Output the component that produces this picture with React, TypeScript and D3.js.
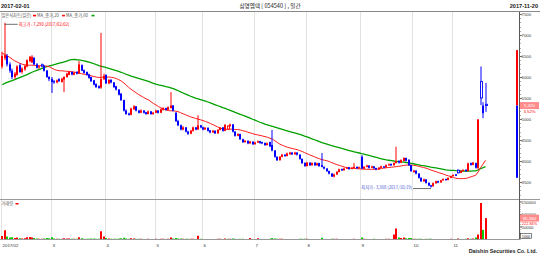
import React from 'react';
import * as d3 from 'd3';

// ---- header / labels ----
const startDate = '2017-02-01';
const endDate = '2017-11-20';
const title = '삼영엠텍 [ 054540 ] , 일간';
const legendItems = ['일본식차트(일간)', 'MA_종가,20', 'MA_종가,60'];
const highLabel = '최고가 : 7,290 (2017/02/02)';
const highIdx = 1;
const lowLabel = '최저가 : 3,368 (2017/10/19)';
const lowIdx = 173;
const changePct = '3.52%';
const footer = 'Daishin Securities Co. Ltd.';
const volUnit = '1000';

// ---- axis ticks ----
const monthStarts = [0, 20, 42, 62, 81, 102, 123, 145, 166, 182];
const monthLabels = ['2017/02', '3', '4', '5', '6', '7', '8', '9', '10', '11'];
const priceTicks = [3500, 4000, 4500, 5000, 5500, 6000, 6500, 7000, 7500];
const volumeTicks = [50000, 100000, 150000];
const rangeTop = 6640;
const rangeBottom = 3600;

// ---- closes before 2017-02-01 (only used for moving averages) ----
const priorCloses = [
  4700, 4750, 4720, 4800, 4780, 4820, 4760, 4800, 4850, 4830, 4790, 4810, 4860, 4900,
  4880, 4850, 4870, 4920, 4900, 4880, 4930, 4950, 4900, 4920, 4960, 4980, 5000, 5050,
  6000, 6500, 6500, 6700, 6900, 7000, 6950, 6900, 7050, 7100, 6950, 7000,
  7000, 6950, 6900, 6850, 6900, 6800, 6700, 6650, 6600, 6550, 6500, 6450, 6400, 6350,
  6300, 6250, 6200, 6150, 6250,
];

// ---- daily data 2017-02-01 .. 2017-11-20 ----
const opens = [
  6250, 6450, 6500, 6300, 6150, 6000, 6050, 6280, 6120, 6180, 6250, 6380, 6350, 6450, 6300, 6230, 6290, 6260, 6150, 6000,
  5950, 5900, 5870, 5950, 5880, 5940, 6000, 6050, 6120, 6060, 6120, 6080, 6280, 6160, 6120, 6060, 6000, 5920, 5830, 5780, 5750, 5950,
  6050, 5850, 5930, 5870, 5780, 5700, 5600, 5450, 5200, 5130, 5100, 5230, 5300, 5200, 5150, 5200, 5160, 5120, 5180, 5120,
  5150, 5200, 5150, 5220, 5260, 5220, 5260, 5320, 5150, 4950, 4850, 4750, 4800, 4700, 4650, 4720, 4800, 4750, 4850,
  4800, 4750, 4790, 4730, 4680, 4720, 4660, 4740, 4800, 4720, 4760, 4830, 4870, 4700, 4600, 4640, 4520, 4450, 4480, 4420, 4460,
  4400, 4440, 4470, 4450, 4430, 4380, 4450, 4380, 4250, 4100, 4020, 4100, 4150, 4120, 4160, 4200, 4160, 4200, 4150, 4050, 3950,
  3880, 3960, 3900, 3960, 3900, 3950, 3900, 3860, 3820, 3760, 3700, 3630, 3680, 3740, 3810, 3780, 3820, 3850, 3810, 3840, 3860, 3830,
  4100, 3820, 3860, 3890, 3840, 3870, 3830, 3800, 3840, 3870, 3850, 3900, 3930, 3900, 3950, 4000, 3960, 4000, 4070, 4030, 3900,
  3740, 3770, 3700, 3600, 3520, 3560, 3480, 3420, 3400, 3470, 3520, 3490, 3540, 3570, 3550, 3600,
  3640, 3680, 3780, 3720, 3760, 3790, 3760, 3950, 3910, 3950, 3840, 5890, 5320, 5350,
];
const highs = [
  6600, 7290, 6550, 6350, 6200, 6120, 6280, 6320, 6230, 6300, 6420, 6500, 6520, 6480, 6330, 6280, 6320, 6280, 6170, 6020,
  6000, 5930, 5940, 5970, 5980, 6020, 6100, 6140, 6130, 6120, 6140, 6380, 6300, 6180, 6130, 6080, 6010, 5930, 5850, 5800, 7050, 6080,
  6060, 5950, 5950, 5880, 5790, 5710, 5620, 5460, 5230, 5150, 5270, 5330, 5310, 5220, 5230, 5210, 5170, 5200, 5190, 5170,
  5220, 5210, 5250, 5280, 5270, 5300, 5640, 5330, 5160, 4980, 4870, 4830, 4810, 4720, 4740, 4820, 4810, 5090, 4860,
  4820, 4810, 4800, 4740, 4740, 4730, 4760, 4810, 4810, 4880, 4850, 4890, 4880, 4710, 4660, 4650, 4530, 4500, 4490, 4480, 4470,
  4460, 4490, 4480, 4460, 4440, 4440, 4460, 4740, 4260, 4110, 4120, 4170, 4160, 4200, 4220, 4210, 4220, 4210, 4160, 4060, 3970,
  3980, 3970, 3970, 3970, 3960, 3960, 4190, 3870, 3830, 3770, 3710, 3700, 3760, 3820, 3820, 3840, 3860, 3860, 3860, 3950, 3870, 3870,
  4140, 3880, 3910, 3900, 3890, 3880, 3840, 3860, 3890, 3880, 3920, 3940, 3940, 3970, 4340, 4020, 4040, 4090, 4080, 4040, 3910,
  3790, 3780, 3710, 3610, 3580, 3570, 3490, 3430, 3490, 3530, 3530, 3550, 3590, 3580, 3610, 3650,
  3680, 3690, 3800, 3780, 3800, 3800, 3960, 3960, 3980, 3960, 4990, 6250, 5400, 5860,
];
const lows = [
  6200, 6400, 6250, 6100, 5950, 5950, 6030, 6100, 6080, 6150, 6230, 6350, 6330, 6280, 6200, 6200, 6240, 6130, 5980, 5900,
  5620, 5840, 5850, 5880, 5870, 5640, 5980, 6040, 6040, 6040, 6060, 6070, 6140, 6080, 6030, 5960, 5880, 5800, 5740, 5720, 5720, 5930,
  5830, 5830, 5850, 5740, 5680, 5560, 5430, 5180, 5100, 5080, 5090, 5220, 5180, 5130, 5140, 5130, 5100, 5110, 5100, 5100,
  5140, 5130, 5140, 5200, 5200, 5210, 5250, 5180, 4930, 4830, 4730, 4730, 4680, 4620, 4640, 4700, 4730, 4740, 4780,
  4730, 4740, 4700, 4660, 4670, 4640, 4650, 4730, 4700, 4710, 4750, 4820, 4680, 4580, 4590, 4500, 4430, 4440, 4400, 4410, 4380,
  4390, 4430, 4410, 4400, 4360, 4370, 4330, 4230, 4080, 4000, 4010, 4090, 4100, 4110, 4150, 4140, 4150, 4130, 4030, 3930, 3860,
  3870, 3880, 3890, 3880, 3890, 3860, 3850, 3800, 3740, 3680, 3620, 3610, 3670, 3730, 3760, 3770, 3810, 3790, 3800, 3830, 3810, 3820,
  3810, 3810, 3850, 3820, 3830, 3810, 3780, 3790, 3830, 3830, 3840, 3890, 3880, 3890, 3940, 3940, 3950, 3990, 3990, 3880, 3740,
  3720, 3680, 3580, 3500, 3500, 3460, 3400, 3368, 3390, 3460, 3470, 3480, 3530, 3530, 3540, 3590,
  3630, 3640, 3700, 3710, 3750, 3740, 3750, 3890, 3900, 3820, 3800, 5330, 5020, 5170,
];
const closes = [
  6500, 6520, 6300, 6150, 6000, 6080, 6250, 6120, 6200, 6260, 6400, 6480, 6480, 6300, 6220, 6250, 6260, 6150, 6000, 5950,
  5880, 5870, 5920, 5900, 5960, 6000, 6080, 6120, 6060, 6100, 6080, 6300, 6150, 6100, 6050, 5980, 5900, 5820, 5760, 5740, 5950, 6030,
  5850, 5930, 5870, 5760, 5700, 5580, 5450, 5200, 5120, 5100, 5250, 5300, 5200, 5150, 5200, 5150, 5120, 5180, 5120, 5150,
  5200, 5150, 5230, 5260, 5220, 5280, 5320, 5200, 4950, 4850, 4750, 4800, 4700, 4650, 4720, 4800, 4750, 4850, 4800,
  4750, 4790, 4720, 4680, 4720, 4660, 4740, 4790, 4720, 4860, 4830, 4870, 4700, 4600, 4640, 4520, 4450, 4480, 4420, 4460, 4400,
  4440, 4470, 4430, 4420, 4380, 4420, 4350, 4250, 4100, 4020, 4100, 4150, 4120, 4180, 4200, 4160, 4200, 4150, 4050, 3950, 3880,
  3960, 3900, 3950, 3900, 3940, 3880, 3860, 3820, 3760, 3700, 3630, 3680, 3740, 3800, 3780, 3820, 3840, 3810, 3840, 3860, 3830, 3850,
  3820, 3860, 3890, 3840, 3870, 3830, 3800, 3840, 3870, 3850, 3900, 3920, 3900, 3950, 4000, 3960, 4020, 4070, 4010, 3900, 3760,
  3770, 3700, 3600, 3520, 3560, 3480, 3420, 3390, 3470, 3520, 3490, 3540, 3570, 3550, 3600, 3640,
  3670, 3650, 3720, 3760, 3790, 3760, 3940, 3910, 3960, 3840, 4990, 5500, 5140, 5320,
];
const volumes = [
  14000, 37000, 12000, 8000, 9000, 6000, 8000, 5000, 4000, 5000, 9000, 10000, 8000, 6000, 4000, 3000, 3000, 4000, 6000, 5000,
  9000, 4000, 3000, 3000, 3000, 5000, 4000, 4000, 3000, 3000, 3000, 9000, 5000, 3000, 3000, 3000, 4000, 4000, 3000, 3000, 33000, 12000,
  6000, 4000, 3000, 3000, 3000, 4000, 5000, 7000, 4000, 3000, 5000, 4000, 3000, 3000, 3000, 2000, 2000, 3000, 2000, 2000,
  3000, 2000, 3000, 3000, 2000, 3000, 8000, 4000, 6000, 4000, 4000, 3000, 3000, 3000, 3000, 3000, 2000, 15000, 3000,
  2000, 2000, 2000, 2000, 2000, 2000, 3000, 3000, 2000, 4000, 3000, 3000, 4000, 3000, 2000, 3000, 3000, 2000, 2000, 6000, 2000,
  2000, 5000, 2000, 2000, 2000, 2000, 3000, 6000, 4000, 3000, 3000, 3000, 2000, 2000, 2000, 2000, 2000, 2000, 3000, 3000, 3000,
  3000, 2000, 2000, 2000, 2000, 2000, 7000, 2000, 2000, 2000, 3000, 3000, 3000, 2000, 2000, 2000, 2000, 2000, 2000, 3000, 2000, 2000,
  8000, 3000, 2000, 2000, 2000, 3000, 2000, 2000, 2000, 2000, 3000, 3000, 2000, 20000, 44000, 8000, 6000, 8000, 5000, 6000, 6000,
  3000, 3000, 3000, 3000, 2000, 3000, 3000, 3000, 2000, 2000, 2000, 2000, 2000, 2000, 2000, 3000,
  2000, 2000, 4000, 2000, 2000, 3000, 5000, 3000, 4000, 8000, 20000, 146000, 38395, 85560,
];

const RED = '#ff0000';
const BLUE = '#0000ff';
const MA_RED = '#ff1a1a';
const MA_GREEN = '#00a000';
const VOL_GREEN = '#00cc00';
const FONT = "'Liberation Sans', 'Noto Sans CJK KR', sans-serif";
const KFONT = "'Noto Sans CJK KR', 'Liberation Sans', sans-serif";

export default function App() {
  const W = 540;
  const H = 257;
  const N = closes.length;
  const plotL = 1;
  const plotR = 519;
  const priceBottom = 199.5;
  const volBase = 239.5;

  const x = d3.scaleLinear().domain([-0.5, 208.5]).range([plotL, plotR]);
  const yP = d3.scaleLinear().domain([3500, 7000]).range([182, 35]);
  const yV = d3.scaleLinear().domain([0, 150000]).range([volBase, 202]);

  const all = priorCloses.concat(closes);
  const P = priorCloses.length;
  const ma = (n: number) =>
    closes.map((_, i) => d3.mean(all.slice(P + i - n + 1, P + i + 1)) as number);
  const ma20 = ma(20);
  const ma60 = ma(60);
  const idx = d3.range(N);
  const line = (arr: number[]) =>
    d3.line<number>().x((i) => x(i)).y((i) => yP(arr[i]))(idx) || '';

  const prevClose = (i: number) => (i > 0 ? closes[i - 1] : priorCloses[P - 1]);
  const left = (i: number) => Math.round(x(i) - 1);

  const last = closes[N - 1];
  const lastVol = volumes[N - 1];
  const volPct = d3.format('.2f')((lastVol / volumes[N - 2]) * 100) + '%';
  const fmt = d3.format(',');

  const minorPrice = d3.range(3200, 7600, 100);
  const minorVol = d3.range(0, 160000, 10000);

  const hx = x(highIdx);
  const hy = yP(highs[highIdx]);
  const lx = x(lowIdx);
  const ly = yP(lows[lowIdx]);

  return (
    <svg
      width={W}
      height={H}
      style={{ position: 'absolute', left: 0, top: 0, background: '#fff' }}
    >
      <rect x={0} y={0} width={W} height={H} fill="#fff" />
      {/* header */}
      <text x={1} y={8} fontSize={5.6} fontWeight="bold" fontFamily={FONT} fill="#222">
        {startDate}
      </text>
      <text x={270} y={8} fontSize={5.6} textAnchor="middle" fontFamily={KFONT} fill="#222">
        {title}
      </text>
      <text x={538} y={8} fontSize={5.6} fontWeight="bold" textAnchor="end" fontFamily={FONT} fill="#222">
        {endDate}
      </text>
      <line x1={0} x2={W} y1={11.5} y2={11.5} stroke="#888" strokeWidth={1} />

      {/* month grid */}
      {monthStarts.map((m, k) => {
        const gx = Math.round(x(m - 0.5)) + 0.5;
        return (
          <g key={'g' + k}>
            <line x1={gx} x2={gx} y1={12} y2={volBase} stroke="#e2e2e2" strokeWidth={1} />
            <text x={gx + 1} y={247} fontSize={4.4} fontFamily={FONT} fill="#333">
              {monthLabels[k]}
            </text>
          </g>
        );
      })}

      {/* pane separators and axis */}
      <line x1={0} x2={W} y1={priceBottom} y2={priceBottom} stroke="#999" strokeWidth={1} />
      <line x1={0} x2={plotR} y1={volBase} y2={volBase} stroke="#999" strokeWidth={1} />
      <line x1={plotR + 0.5} x2={plotR + 0.5} y1={12} y2={volBase} stroke="#555" strokeWidth={1} />

      {/* price axis */}
      {minorPrice.map((p) => (
        <line key={'mp' + p} x1={plotR + 0.5} x2={plotR + 2} y1={Math.round(yP(p)) + 0.5} y2={Math.round(yP(p)) + 0.5} stroke="#777" strokeWidth={0.6} />
      ))}
      {priceTicks.map((p) => (
        <g key={'pt' + p}>
          <line x1={plotR + 0.5} x2={plotR + 3} y1={Math.round(yP(p)) + 0.5} y2={Math.round(yP(p)) + 0.5} stroke="#555" strokeWidth={0.8} />
          <text x={plotR + 2.5} y={yP(p) + 1.6} fontSize={4.3} fontFamily={FONT} fill="#333">
            {p}
          </text>
        </g>
      ))}
      {/* range bar */}
      <rect x={plotR - 3} y={yP(rangeTop)} width={2} height={yP(last) - yP(rangeTop)} fill={RED} />
      <rect x={plotR - 3} y={yP(last)} width={2} height={yP(rangeBottom) - yP(last)} fill={BLUE} />

      {/* volume axis */}
      {minorVol.map((v) => (
        <line key={'mv' + v} x1={plotR + 0.5} x2={plotR + 2} y1={yV(v)} y2={yV(v)} stroke="#777" strokeWidth={0.5} />
      ))}
      {volumeTicks.map((v) => (
        <g key={'vt' + v}>
          <line x1={plotR + 0.5} x2={plotR + 3} y1={yV(v)} y2={yV(v)} stroke="#555" strokeWidth={0.8} />
          <text x={plotR + 2.5} y={yV(v) + 1.6} fontSize={4.3} fontFamily={FONT} fill="#333">
            {v}
          </text>
        </g>
      ))}
      <rect x={plotR + 1.5} y={233.5} width={11} height={5} fill="#fff" stroke="#333" strokeWidth={0.6} />
      <text x={plotR + 7} y={237.5} fontSize={3.8} textAnchor="middle" fontFamily={FONT} fill="#222">
        {volUnit}
      </text>

      {/* legend */}
      <text x={1.5} y={17} fontSize={4.2} fontFamily={KFONT} fill="#555">
        {legendItems[0]}
      </text>
      <rect x={33} y={14.8} width={3} height={1.6} fill={RED} />
      <text x={37} y={17} fontSize={4.2} fontFamily={KFONT} fill="#555">
        {legendItems[1]}
      </text>
      <rect x={62} y={14.8} width={3} height={1.6} fill={MA_RED} />
      <text x={66} y={17} fontSize={4.2} fontFamily={KFONT} fill="#555">
        {legendItems[2]}
      </text>
      <rect x={91.5} y={14.8} width={3} height={1.6} fill={MA_GREEN} />

      {/* moving averages */}
      <path d={line(ma60)} fill="none" stroke={MA_GREEN} strokeWidth={1.3} />
      <path d={line(ma20)} fill="none" stroke={MA_RED} strokeWidth={1} />

      {/* candles */}
      {idx.map((i) => {
        const o = opens[i];
        const c = closes[i];
        const up = c >= o;
        const col = up ? RED : BLUE;
        const hollow = up ? c < prevClose(i) : c > prevClose(i);
        const L = left(i);
        const top = yP(Math.max(o, c));
        const bh = Math.max(1, yP(Math.min(o, c)) - top);
        return (
          <g key={'c' + i}>
            <line x1={L + 1} x2={L + 1} y1={yP(highs[i])} y2={yP(lows[i])} stroke={col} strokeWidth={1} />
            {hollow ? (
              <rect x={L + 0.5} y={top} width={2} height={bh} fill="#fff" stroke={col} strokeWidth={0.9} />
            ) : (
              <rect x={L} y={top} width={2} height={bh} fill={col} />
            )}
          </g>
        );
      })}

      {/* volume bars */}
      {idx.map((i) => {
        const v = volumes[i];
        const upDay = closes[i] >= prevClose(i);
        return (
          <rect
            key={'v' + i}
            x={left(i)}
            y={yV(v)}
            width={2}
            height={volBase - 0.5 - yV(v)}
            fill={upDay ? RED : VOL_GREEN}
          />
        );
      })}
      <text x={1.5} y={205} fontSize={4.2} fontFamily={KFONT} fill="#555">
        거래량
      </text>
      <rect x={15.5} y={203} width={3} height={1.5} fill={RED} />

      {/* high / low annotations */}
      <line x1={hx} x2={hx + 13} y1={hy + 1.5} y2={hy + 1.5} stroke="#333" strokeWidth={0.7} />
      <text x={hx + 14} y={hy + 3} fontSize={4.2} fontFamily={KFONT} fill={RED}>
        {highLabel}
      </text>
      <line x1={lx - 18} x2={lx} y1={ly + 1} y2={ly + 1} stroke="#333" strokeWidth={0.7} />
      <text x={lx - 19} y={ly + 1} fontSize={4.2} textAnchor="end" fontFamily={KFONT} fill="#4a5cd8">
        {lowLabel}
      </text>

      {/* last price box */}
      <rect x={plotR + 1} y={yP(last) - 3.5} width={19} height={7} fill="#ff8c8c" />
      <text x={plotR + 10.5} y={yP(last) + 1.6} fontSize={4.3} textAnchor="middle" fontFamily={FONT} fill="#fff">
        {fmt(last)}
      </text>
      <text x={plotR + 10.5} y={yP(last) + 7.4} fontSize={4.2} textAnchor="middle" fontFamily={FONT} fill={RED}>
        {changePct}
      </text>

      {/* last volume box */}
      <rect x={plotR + 1} y={yV(lastVol) - 3.5} width={19} height={7} fill="#ff8c8c" />
      <text x={plotR + 10.5} y={yV(lastVol) + 1.6} fontSize={4.3} textAnchor="middle" fontFamily={FONT} fill="#fff">
        {fmt(lastVol)}
      </text>
      <text x={plotR + 10.5} y={yV(lastVol) + 6.4} fontSize={3.9} textAnchor="middle" fontFamily={FONT} fill={RED}>
        {volPct}
      </text>

      {/* footer */}
      <text x={537} y={253} fontSize={5.4} fontWeight="bold" textAnchor="end" fontFamily={FONT} fill="#222">
        {footer}
      </text>
    </svg>
  );
}
